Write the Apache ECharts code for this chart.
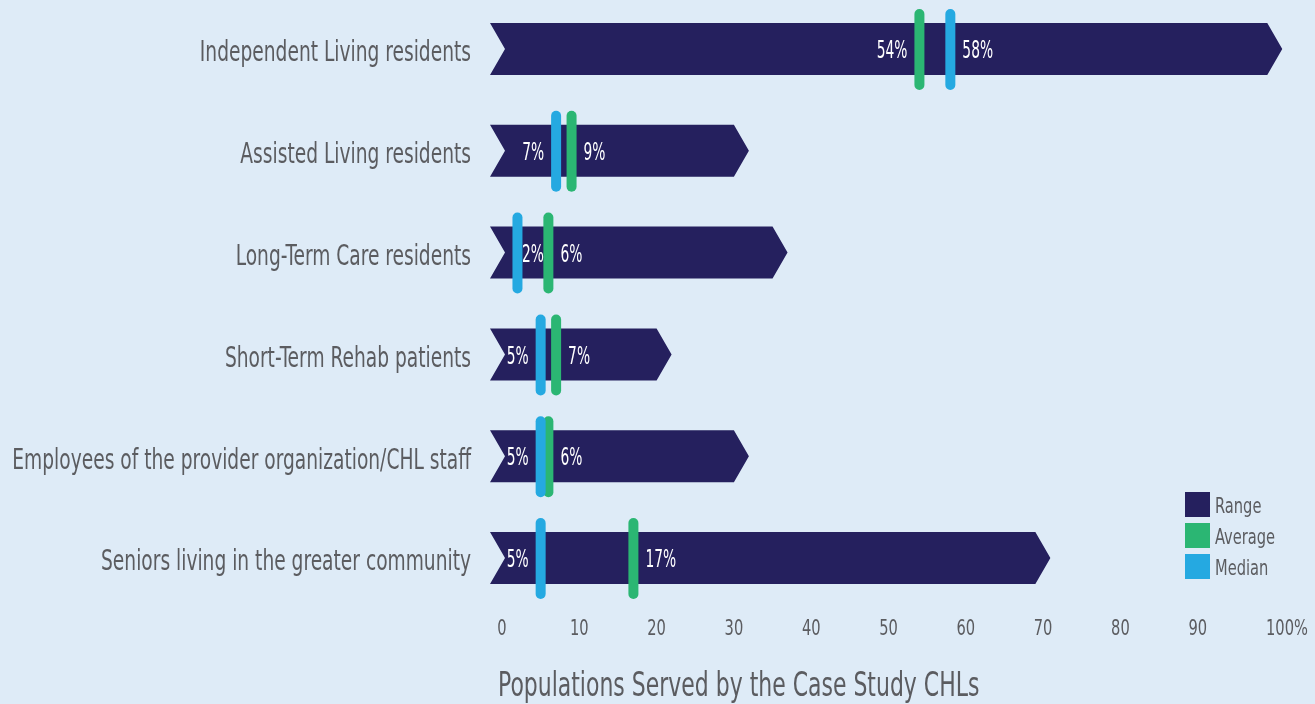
<!DOCTYPE html>
<html>
<head>
<meta charset="utf-8">
<title>Populations Served by the Case Study CHLs</title>
<script src="https://cdn.jsdelivr.net/npm/echarts@6/dist/echarts.min.js"></script>
<style>
  html, body { margin: 0; padding: 0; background: #deebf7; }
  #chart { width: 1315px; height: 704px; }
</style>
</head>
<body>
<div id="chart"></div>
<script>
// Populations served, percent of people per case study
const categories = [
  'Independent Living residents',
  'Assisted Living residents',
  'Long-Term Care residents',
  'Short-Term Rehab patients',
  'Employees of the provider organization/CHL staff',
  'Seniors living in the greater community'
];
const rangeMin = [0, 0, 0, 0, 0, 0];
const rangeMax = [99, 30, 35, 20, 30, 69];
const averages = [54, 9, 6, 7, 6, 17];
const medians = [58, 7, 2, 5, 5, 5];
const xTicks = [0, 10, 20, 30, 40, 50, 60, 70, 80, 90, 100];
const legendNames = ['Range', 'Average', 'Median'];
const titleText = 'Populations Served by the Case Study CHLs';

const NAVY = '#25205e';
const GREEN = '#2bb673';
const BLUE = '#25a9e1';
const GREY = '#5b5c60';
const FONT = "'DejaVu Sans Condensed', 'DejaVu Sans', sans-serif";
const SQUEEZE = 0.74; // horizontal condensing applied to the text

// Text element squeezed horizontally around its anchor point
function narrowText(text, x, y, size, fill, align, extra, squeeze) {
  return Object.assign({
    type: 'text',
    x: x,
    y: y,
    scaleX: squeeze || SQUEEZE,
    style: {
      text: text,
      x: 0,
      y: 0,
      fill: fill,
      font: size + 'px ' + FONT,
      align: align,
      verticalAlign: 'middle'
    }
  }, extra || {});
}

const chart = echarts.init(document.getElementById('chart'));

// Range bar (notched tail on the left, arrow head on the right) plus its category name
function renderRange(params, api) {
  const row = api.value(0);
  const p0 = api.coord([api.value(1), row]);
  const p1 = api.coord([api.value(2), row]);
  const h = 52;
  const tail = 12, notch = 15, head = 15;
  const xl = p0[0] - tail, xr = p1[0];
  const top = p0[1] - h / 2, bot = p0[1] + h / 2, mid = p0[1];
  return {
    type: 'group',
    children: [
      {
        type: 'polygon',
        shape: { points: [[xl, top], [xr, top], [xr + head, mid], [xr, bot], [xl, bot], [xl + notch, mid]] },
        style: { fill: NAVY }
      },
      narrowText(categories[params.dataIndex], xl - 19, mid + 5, 28, GREY, 'right')
    ]
  };
}

// Marker line with its value label; label side chosen from the partner marker
function makeMarker(color, others) {
  return function (params, api) {
    const row = api.value(0);
    const v = api.value(1);
    const p = api.coord([v, row]);
    const other = others[params.dataIndex];
    const po = api.coord([other, row]);
    let side = v <= other ? 'left' : 'right';
    if (side === 'left' && v < 3) side = 'right';
    const off = 12;
    let lx = side === 'left' ? p[0] - off : p[0] + off;
    let align = side === 'left' ? 'right' : 'left';
    // label squeezed between two close markers: centre it in the gap
    if (side === 'right' && other > v && po[0] - p[0] < 45) {
      lx = (p[0] + po[0]) / 2;
      align = 'center';
    }
    return {
      type: 'group',
      children: [
        {
          type: 'rect',
          shape: { x: p[0] - 5, y: p[1] - 40, width: 10, height: 81, r: 5 },
          style: { fill: color }
        },
        narrowText(v + '%', lx, p[1] + 3, 24, '#ffffff', align, { z2: 10 }, 0.64)
      ]
    };
  };
}

// Tick labels along the bottom of the plot
function renderTick(params, api) {
  const v = api.value(0);
  const p = api.coord([v, api.value(1)]);
  const y = p[1] + api.size([0, 1])[1] / 2 + 20;
  const last = v === xTicks[xTicks.length - 1];
  return narrowText(last ? v + '%' : String(v), last ? p[0] - 9 : p[0], y, 22, GREY, last ? 'left' : 'center');
}

const option = {
  backgroundColor: '#deebf7',
  animation: false,
  grid: { left: 502, width: 773, top: -2, height: 611, containLabel: false, outerBoundsMode: 'none' },
  xAxis: {
    type: 'value',
    min: xTicks[0],
    max: xTicks[xTicks.length - 1],
    interval: 10,
    axisLine: { show: false },
    axisTick: { show: false },
    splitLine: { show: false },
    axisLabel: { show: false }
  },
  yAxis: {
    type: 'category',
    data: categories,
    inverse: true,
    axisLine: { show: false },
    axisTick: { show: false },
    splitLine: { show: false },
    axisLabel: { show: false }
  },
  graphic: [
    narrowText(titleText, 498, 687, 33, GREY, 'left'),
    {
      type: 'group',
      left: 1185,
      top: 492,
      children: legendNames.map((name, i) => ({
        type: 'group',
        y: i * 31,
        children: [
          { type: 'rect', shape: { x: 0, y: 0, width: 25, height: 25 }, style: { fill: [NAVY, GREEN, BLUE][i] } },
          narrowText(name, 30, 15, 22, GREY, 'left')
        ]
      }))
    }
  ],
  series: [
    {
      name: 'Range',
      type: 'custom',
      itemStyle: { color: NAVY },
      renderItem: renderRange,
      encode: { x: [1, 2], y: 0 },
      data: categories.map((c, i) => [i, rangeMin[i], rangeMax[i]])
    },
    {
      name: 'Average',
      type: 'custom',
      itemStyle: { color: GREEN },
      renderItem: makeMarker(GREEN, medians),
      encode: { x: 1, y: 0 },
      data: categories.map((c, i) => [i, averages[i]])
    },
    {
      name: 'Median',
      type: 'custom',
      itemStyle: { color: BLUE },
      renderItem: makeMarker(BLUE, averages),
      encode: { x: 1, y: 0 },
      data: categories.map((c, i) => [i, medians[i]])
    },
    {
      name: 'Ticks',
      type: 'custom',
      silent: true,
      renderItem: renderTick,
      encode: { x: 0, y: 1 },
      data: xTicks.map(v => [v, categories.length - 1])
    }
  ]
};

chart.setOption(option);
</script>
</body>
</html>
